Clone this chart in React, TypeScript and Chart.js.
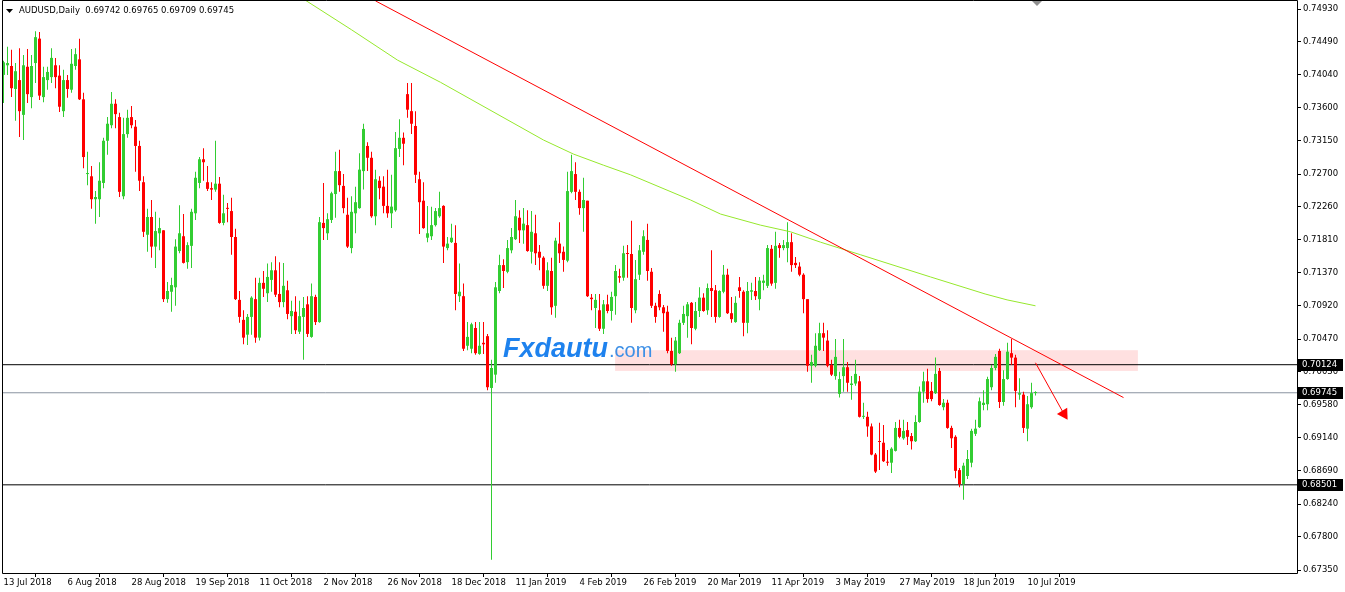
import React, { useEffect, useRef } from 'react';
import { Chart, registerables } from 'chart.js';

Chart.register(...registerables);

const symbol = 'AUDUSD';
const timeframe = 'Daily';

const opens = [
  0.7404, 0.7417, 0.7416, 0.7385, 0.7397, 0.7350, 0.7415, 0.7374, 0.7420, 0.7453,
  0.7374, 0.7397, 0.7401, 0.7417, 0.7403, 0.7355, 0.7397, 0.7384, 0.7416, 0.7425,
  0.7371, 0.7270, 0.7267, 0.7236, 0.7236, 0.7258, 0.7315, 0.7336, 0.7365, 0.7347,
  0.7240, 0.7324, 0.7347, 0.7334, 0.7308, 0.7259, 0.7188, 0.7212, 0.7172, 0.7190,
  0.7194, 0.7101, 0.7111, 0.7117, 0.7166, 0.7186, 0.7151, 0.7173, 0.7217, 0.7258,
  0.7290, 0.7259, 0.7251, 0.7249, 0.7257, 0.7204, 0.7224, 0.7220, 0.7185, 0.7100,
  0.7073, 0.7053, 0.7077, 0.7101, 0.7049, 0.7123, 0.7109, 0.7127, 0.7140, 0.7108,
  0.7097, 0.7113, 0.7078, 0.7084, 0.7057, 0.7077, 0.7094, 0.7050, 0.7104, 0.7070,
  0.7204, 0.7190, 0.7208, 0.7243, 0.7274, 0.7254, 0.7215, 0.7170, 0.7217, 0.7224,
  0.7274, 0.7308, 0.7292, 0.7213, 0.7261, 0.7253, 0.7227, 0.7217, 0.7221, 0.7304,
  0.7319, 0.7378, 0.7355, 0.7335, 0.7263, 0.7234, 0.7184, 0.7186, 0.7201, 0.7213,
  0.7227, 0.7170, 0.7178, 0.7177, 0.7105, 0.7105, 0.7038, 0.7034, 0.7062, 0.7027,
  0.7042, 0.7051, 0.6981, 0.6999, 0.7112, 0.7147, 0.7138, 0.7167, 0.7182, 0.7211,
  0.7194, 0.7201, 0.7165, 0.7190, 0.7165, 0.7157, 0.7119, 0.7139, 0.7092, 0.7176,
  0.7165, 0.7153, 0.7246, 0.7270, 0.7246, 0.7224, 0.7234, 0.7103, 0.7089, 0.7086,
  0.7061, 0.7094, 0.7085, 0.7105, 0.7132, 0.7130, 0.7163, 0.7162, 0.7086, 0.7134,
  0.7165, 0.7181, 0.7138, 0.7092, 0.7108, 0.7090, 0.7084, 0.7031, 0.7013, 0.7028,
  0.7069, 0.7078, 0.7096, 0.7061, 0.7085, 0.7103, 0.7086, 0.7116, 0.7113, 0.7077,
  0.7111, 0.7134, 0.7082, 0.7070, 0.7117, 0.7111, 0.7069, 0.7111, 0.7112, 0.7101,
  0.7123, 0.7119, 0.7169, 0.7123, 0.7174, 0.7170, 0.7170, 0.7178, 0.7150, 0.7145,
  0.7134, 0.7101, 0.7011, 0.7011, 0.7032, 0.7055, 0.7045, 0.7012, 0.6997, 0.6973,
  0.6997, 0.7009, 0.6985, 0.6987, 0.6990, 0.6942, 0.6942, 0.6929, 0.6891, 0.6909,
  0.6907, 0.6881, 0.6880, 0.6896, 0.6927, 0.6913, 0.6924, 0.6916, 0.6909, 0.6935,
  0.6976, 0.6990, 0.6977, 0.6974, 0.7004, 0.6955, 0.6961, 0.6927, 0.6915, 0.6870,
  0.6851, 0.6862, 0.6880, 0.6919, 0.6928, 0.6958, 0.6959, 0.6982, 0.7008, 0.7031,
  0.6962, 0.6993, 0.7028, 0.7022, 0.6972, 0.6972, 0.6926, 0.6955, 0.69742,
];

const highs = [
  0.7423, 0.7442, 0.7438, 0.7420, 0.7440, 0.7431, 0.7439, 0.7431, 0.7463, 0.7462,
  0.7415, 0.7415, 0.7440, 0.7427, 0.7417, 0.7411, 0.7404, 0.7439, 0.7440, 0.7453,
  0.7380, 0.7300, 0.7281, 0.7247, 0.7286, 0.7319, 0.7347, 0.7381, 0.7371, 0.7353,
  0.7346, 0.7357, 0.7362, 0.7343, 0.7315, 0.7267, 0.7223, 0.7235, 0.7219, 0.7211,
  0.7194, 0.7124, 0.7130, 0.7182, 0.7228, 0.7216, 0.7178, 0.7223, 0.7273, 0.7293,
  0.7305, 0.7281, 0.7259, 0.7315, 0.7266, 0.7242, 0.7231, 0.7238, 0.7196, 0.7112,
  0.7086, 0.7081, 0.7105, 0.7130, 0.7130, 0.7139, 0.7149, 0.7151, 0.7159, 0.7151,
  0.7150, 0.7126, 0.7099, 0.7105, 0.7099, 0.7104, 0.7105, 0.7122, 0.7107, 0.7212,
  0.7258, 0.7217, 0.7246, 0.7300, 0.7303, 0.7270, 0.7238, 0.7240, 0.7253, 0.7298,
  0.7338, 0.7313, 0.7300, 0.7276, 0.7267, 0.7267, 0.7276, 0.7269, 0.7327, 0.7344,
  0.7326, 0.7393, 0.7393, 0.7355, 0.7273, 0.7259, 0.7227, 0.7226, 0.7224, 0.7246,
  0.7228, 0.7185, 0.7203, 0.7201, 0.7149, 0.7122, 0.7070, 0.7069, 0.7070, 0.7070,
  0.7070, 0.7054, 0.7019, 0.7124, 0.7161, 0.7155, 0.7181, 0.7197, 0.7235, 0.7221,
  0.7224, 0.7221, 0.7220, 0.7215, 0.7174, 0.7159, 0.7151, 0.7157, 0.7184, 0.7205,
  0.7172, 0.7273, 0.7296, 0.7286, 0.7249, 0.7265, 0.7234, 0.7108, 0.7108, 0.7108,
  0.7100, 0.7107, 0.7111, 0.7147, 0.7142, 0.7173, 0.7174, 0.7207, 0.7154, 0.7174,
  0.7194, 0.7203, 0.7143, 0.7096, 0.7113, 0.7093, 0.7092, 0.7049, 0.7050, 0.7073,
  0.7092, 0.7097, 0.7097, 0.7097, 0.7117, 0.7109, 0.7122, 0.7167, 0.7120, 0.7113,
  0.7147, 0.7142, 0.7104, 0.7105, 0.7131, 0.7113, 0.7124, 0.7123, 0.7131, 0.7131,
  0.7134, 0.7174, 0.7174, 0.7192, 0.7177, 0.7181, 0.7205, 0.7190, 0.7158, 0.7151,
  0.7136, 0.7101, 0.7026, 0.7055, 0.7069, 0.7069, 0.7059, 0.7019, 0.7047, 0.7003,
  0.7047, 0.7016, 0.6997, 0.7019, 0.6997, 0.6961, 0.6949, 0.6933, 0.6893, 0.6934,
  0.6931, 0.6897, 0.6901, 0.6935, 0.6938, 0.6938, 0.6935, 0.6920, 0.6944, 0.6983,
  0.7003, 0.7007, 0.6989, 0.7022, 0.7008, 0.6966, 0.6965, 0.6930, 0.6917, 0.6873,
  0.6880, 0.6897, 0.6926, 0.6938, 0.6968, 0.6978, 0.6996, 0.7012, 0.7027, 0.7034,
  0.7005, 0.7042, 0.7047, 0.7026, 0.6994, 0.6976, 0.6970, 0.6988, 0.69765,
];

const lows = [
  0.7366, 0.7404, 0.7374, 0.7342, 0.7320, 0.7316, 0.7366, 0.7359, 0.7393, 0.7370,
  0.7367, 0.7384, 0.7393, 0.7386, 0.7354, 0.7347, 0.7373, 0.7380, 0.7411, 0.7370,
  0.7278, 0.7255, 0.7223, 0.7203, 0.7212, 0.7251, 0.7296, 0.7332, 0.7332, 0.7239,
  0.7236, 0.7319, 0.7332, 0.7273, 0.7247, 0.7185, 0.7165, 0.7157, 0.7143, 0.7167,
  0.7097, 0.7096, 0.7084, 0.7092, 0.7163, 0.7149, 0.7142, 0.7143, 0.7208, 0.7251,
  0.7261, 0.7247, 0.7235, 0.7246, 0.7203, 0.7201, 0.7205, 0.7161, 0.7100, 0.7069,
  0.7040, 0.7039, 0.7053, 0.7042, 0.7045, 0.7104, 0.7097, 0.7111, 0.7104, 0.7090,
  0.7090, 0.7074, 0.7054, 0.7054, 0.7054, 0.7019, 0.7050, 0.7049, 0.7066, 0.7069,
  0.7181, 0.7181, 0.7204, 0.7211, 0.7246, 0.7217, 0.7170, 0.7163, 0.7190, 0.7223,
  0.7249, 0.7274, 0.7211, 0.7201, 0.7236, 0.7217, 0.7211, 0.7197, 0.7219, 0.7293,
  0.7282, 0.7346, 0.7324, 0.7258, 0.7189, 0.7196, 0.7178, 0.7181, 0.7199, 0.7211,
  0.7150, 0.7167, 0.7177, 0.7086, 0.7097, 0.7031, 0.7032, 0.7028, 0.7026, 0.7026,
  0.7027, 0.6978, 0.6749, 0.6988, 0.7109, 0.7116, 0.7136, 0.7163, 0.7181, 0.7177,
  0.7176, 0.7165, 0.7149, 0.7147, 0.7140, 0.7115, 0.7112, 0.7080, 0.7076, 0.7150,
  0.7138, 0.7151, 0.7244, 0.7235, 0.7215, 0.7192, 0.7104, 0.7086, 0.7062, 0.7058,
  0.7054, 0.7082, 0.7072, 0.7080, 0.7123, 0.7126, 0.7130, 0.7069, 0.7082, 0.7127,
  0.7161, 0.7126, 0.7089, 0.7069, 0.7086, 0.7057, 0.7028, 0.7011, 0.7003, 0.7027,
  0.7066, 0.7049, 0.7040, 0.7059, 0.7077, 0.7084, 0.7080, 0.7077, 0.7069, 0.7076,
  0.7109, 0.7081, 0.7069, 0.7069, 0.7103, 0.7051, 0.7055, 0.7100, 0.7100, 0.7086,
  0.7113, 0.7116, 0.7119, 0.7115, 0.7157, 0.7167, 0.7151, 0.7138, 0.7143, 0.7132,
  0.7082, 0.7003, 0.6988, 0.7009, 0.7031, 0.7031, 0.7009, 0.6997, 0.6992, 0.6968,
  0.6976, 0.6976, 0.6965, 0.6984, 0.6941, 0.6939, 0.6915, 0.6890, 0.6866, 0.6870,
  0.6881, 0.6876, 0.6866, 0.6895, 0.6913, 0.6911, 0.6904, 0.6898, 0.6908, 0.6934,
  0.6961, 0.6961, 0.6963, 0.6973, 0.6957, 0.6951, 0.6926, 0.6900, 0.6859, 0.6847,
  0.6830, 0.6858, 0.6874, 0.6916, 0.6927, 0.6951, 0.6951, 0.6978, 0.7005, 0.6954,
  0.6957, 0.6992, 0.7012, 0.6955, 0.6965, 0.6920, 0.6909, 0.6953, 0.69709,
];

const closes = [
  0.7421, 0.7420, 0.7386, 0.7409, 0.7355, 0.7417, 0.7378, 0.7416, 0.7455, 0.7376,
  0.7401, 0.7408, 0.7427, 0.7401, 0.7361, 0.7397, 0.7385, 0.7419, 0.7432, 0.7371,
  0.7293, 0.7271, 0.7236, 0.7239, 0.7261, 0.7315, 0.7338, 0.7365, 0.7351, 0.7246,
  0.7324, 0.7346, 0.7336, 0.7308, 0.7261, 0.7192, 0.7212, 0.7172, 0.7193, 0.7197,
  0.7101, 0.7112, 0.7120, 0.7172, 0.7190, 0.7150, 0.7174, 0.7219, 0.7265, 0.7290,
  0.7286, 0.7250, 0.7249, 0.7257, 0.7204, 0.7217, 0.7223, 0.7185, 0.7101, 0.7077,
  0.7049, 0.7077, 0.7103, 0.7049, 0.7123, 0.7115, 0.7131, 0.7140, 0.7107, 0.7097,
  0.7119, 0.7081, 0.7085, 0.7059, 0.7078, 0.7089, 0.7054, 0.7105, 0.7070, 0.7205,
  0.7197, 0.7209, 0.7244, 0.7274, 0.7255, 0.7224, 0.7172, 0.7219, 0.7232, 0.7276,
  0.7331, 0.7292, 0.7213, 0.7263, 0.7251, 0.7227, 0.7217, 0.7226, 0.7305, 0.7319,
  0.7311, 0.7357, 0.7338, 0.7269, 0.7232, 0.7197, 0.7190, 0.7201, 0.7220, 0.7224,
  0.7172, 0.7176, 0.7184, 0.7108, 0.7111, 0.7034, 0.7050, 0.7067, 0.7028, 0.7038,
  0.7040, 0.6982, 0.7008, 0.7117, 0.7147, 0.7139, 0.7170, 0.7185, 0.7213, 0.7194,
  0.7203, 0.7166, 0.7192, 0.7163, 0.7157, 0.7119, 0.7140, 0.7090, 0.7180, 0.7163,
  0.7154, 0.7247, 0.7274, 0.7246, 0.7224, 0.7235, 0.7105, 0.7101, 0.7100, 0.7061,
  0.7094, 0.7085, 0.7104, 0.7139, 0.7130, 0.7163, 0.7162, 0.7089, 0.7128, 0.7167,
  0.7186, 0.7139, 0.7092, 0.7077, 0.7090, 0.7082, 0.7031, 0.7013, 0.7045, 0.7069,
  0.7081, 0.7094, 0.7062, 0.7085, 0.7103, 0.7085, 0.7116, 0.7112, 0.7077, 0.7112,
  0.7134, 0.7082, 0.7074, 0.7096, 0.7112, 0.7069, 0.7112, 0.7113, 0.7105, 0.7126,
  0.7126, 0.7170, 0.7122, 0.7173, 0.7170, 0.7174, 0.7178, 0.7147, 0.7147, 0.7134,
  0.7101, 0.7011, 0.7016, 0.7038, 0.7055, 0.7049, 0.7011, 0.6999, 0.7023, 0.6993,
  0.7009, 0.6988, 0.6987, 0.7000, 0.6942, 0.6943, 0.6929, 0.6891, 0.6868, 0.6908,
  0.6882, 0.6880, 0.6899, 0.6927, 0.6915, 0.6923, 0.6915, 0.6909, 0.6935, 0.6976,
  0.6990, 0.6966, 0.6966, 0.7000, 0.6958, 0.6961, 0.6927, 0.6913, 0.6869, 0.6851,
  0.6876, 0.6885, 0.6923, 0.6926, 0.6963, 0.6961, 0.6993, 0.7008, 0.7023, 0.6962,
  0.6993, 0.7030, 0.7022, 0.6977, 0.6974, 0.6927, 0.6959, 0.6974, 0.69745,
];

const xTickBars = [0, 16, 32, 48, 64, 80, 96, 112, 128, 144, 160, 176, 192, 208, 224, 240, 256];
const xTickLabels = [
  '13 Jul 2018', '6 Aug 2018', '28 Aug 2018', '19 Sep 2018', '11 Oct 2018', '2 Nov 2018',
  '26 Nov 2018', '18 Dec 2018', '11 Jan 2019', '4 Feb 2019', '26 Feb 2019', '20 Mar 2019',
  '11 Apr 2019', '3 May 2019', '27 May 2019', '18 Jun 2019', '10 Jul 2019',
];
const yTickValues = [
  0.7493, 0.7449, 0.7404, 0.736, 0.7315, 0.727, 0.7226, 0.7181, 0.7137,
  0.7092, 0.7047, 0.7003, 0.6958, 0.6914, 0.6869, 0.6824, 0.678, 0.6735,
];

const levelValues = [0.70124, 0.68501];
const bidValue = 0.69745;

const maBars = [74, 87, 98.5, 109.25, 135, 142.5, 150, 156.75, 171.75, 179.25, 189.25, 196.75, 204.25, 214.25, 231.75, 245.4, 250.9, 258];
const maValues = [0.751, 0.7465, 0.7424, 0.7394, 0.7316, 0.7297, 0.7282, 0.7269, 0.7235, 0.7216, 0.7201, 0.7192, 0.7178, 0.7161, 0.7131, 0.7108, 0.71, 0.7092];

const trendBars = [93, 280];
const trendValues = [0.7504, 0.6968];

const arrowBars = [258, 265.1];
const arrowValues = [0.7015, 0.6946];

const zoneBars = [152.9, 283.6];
const zoneValues = [0.7032, 0.7004];

const X_MIN = -0.375;
const X_MAX = 323.375;
const Y_MIN = 0.673097;
const Y_MAX = 0.750385;

const GREEN = '#32cd32';
const RED = '#ff0000';
const FONT = '"DejaVu Sans"';

export default function App() {
  const ref = useRef<HTMLCanvasElement | null>(null);

  useEffect(() => {
    const canvas = ref.current;
    if (!canvas) return;
    const idx = opens.map((_, i) => i);
    const colors = idx.map((i) => (closes[i] >= opens[i] ? GREEN : RED));
    const last = opens.length - 1;

    const overlay = {
      id: 'overlay',
      beforeDatasetsDraw(chart: any) {
        const { ctx, scales } = chart;
        const x = scales.x;
        const y = scales.y;
        ctx.save();
        ctx.fillStyle = '#ffe0e0';
        const x0 = x.getPixelForValue(zoneBars[0]);
        const x1 = x.getPixelForValue(zoneBars[1]);
        const y0 = y.getPixelForValue(zoneValues[0]);
        const y1 = y.getPixelForValue(zoneValues[1]);
        ctx.fillRect(x0, y0, x1 - x0, y1 - y0);
        ctx.restore();
      },
      afterDatasetsDraw(chart: any) {
        const { ctx } = chart;
        ctx.save();
        ctx.textBaseline = 'alphabetic';
        ctx.textAlign = 'left';
        ctx.font = 'italic bold 27px "Liberation Sans"';
        ctx.fillStyle = '#1e82ee';
        ctx.fillText('Fxdautu', 503, 357);
        const w = ctx.measureText('Fxdautu').width;
        ctx.font = '20px "Liberation Sans"';
        ctx.fillStyle = '#3d8fe6';
        ctx.fillText('.com', 503 + w + 1, 357);
        ctx.restore();
      },
      afterDraw(chart: any) {
        const { ctx, chartArea: ca, scales } = chart;
        const y = scales.y;
        ctx.save();
        // frame
        ctx.strokeStyle = '#000';
        ctx.lineWidth = 1;
        ctx.beginPath();
        ctx.moveTo(ca.left + 0.5, ca.top - 0.5);
        ctx.lineTo(ca.right + 0.5, ca.top - 0.5);
        ctx.moveTo(ca.left + 0.5, ca.top - 0.5);
        ctx.lineTo(ca.left + 0.5, ca.bottom + 0.5);
        ctx.moveTo(ca.right + 0.5, ca.top - 0.5);
        ctx.lineTo(ca.right + 0.5, ca.bottom + 0.5);
        ctx.moveTo(ca.left + 0.5, ca.bottom + 0.5);
        ctx.lineTo(ca.right + 0.5, ca.bottom + 0.5);
        ctx.stroke();

        // highlighted price labels
        ctx.font = '8.5px ' + FONT;
        ctx.textBaseline = 'middle';
        ctx.textAlign = 'left';
        [...levelValues, bidValue].forEach((v) => {
          const py = Math.round(y.getPixelForValue(v));
          ctx.fillStyle = '#000';
          ctx.fillRect(ca.right + 1, py - 6, 45, 12);
          ctx.fillStyle = '#fff';
          ctx.fillText(v.toFixed(5), ca.right + 5, py);
        });

        // header
        ctx.fillStyle = '#000';
        ctx.beginPath();
        ctx.moveTo(6, 9);
        ctx.lineTo(13, 9);
        ctx.lineTo(9.5, 13);
        ctx.closePath();
        ctx.fill();
        ctx.font = '8.5px ' + FONT;
        ctx.textBaseline = 'middle';
        const header = `${symbol},${timeframe}  ${opens[last].toFixed(5)} ${highs[last].toFixed(5)} ${lows[last].toFixed(5)} ${closes[last].toFixed(5)}`;
        ctx.fillText(header, 19, 11);

        // chart shift marker
        ctx.fillStyle = '#909090';
        ctx.beginPath();
        ctx.moveTo(1032, 1);
        ctx.lineTo(1042, 1);
        ctx.lineTo(1037, 6);
        ctx.closePath();
        ctx.fill();
        ctx.restore();
      },
    };

    const hline = (v: number, color: string, order: number) => ({
      type: 'line',
      data: [{ x: X_MIN, y: v }, { x: X_MAX, y: v }],
      borderColor: color,
      borderWidth: 1,
      pointRadius: 0,
      order,
    });

    const chart = new Chart(canvas, {
      type: 'bar',
      data: {
        datasets: [
          hline(levelValues[0], '#000000', 9),
          hline(levelValues[1], '#000000', 9),
          hline(bidValue, '#8a93a0', 8),
          {
            type: 'bar',
            data: idx.map((i) => ({ x: i, y: [lows[i], highs[i]] })),
            backgroundColor: colors,
            grouped: false,
            barPercentage: 1,
            categoryPercentage: 1,
            maxBarThickness: 1,
            borderWidth: 0,
            inflateAmount: 0,
            order: 6,
          },
          {
            type: 'bar',
            data: idx.map((i) => ({ x: i, y: [opens[i], closes[i]] })),
            backgroundColor: colors,
            grouped: false,
            barPercentage: 1,
            categoryPercentage: 1,
            maxBarThickness: 3,
            minBarLength: 1,
            borderWidth: 0,
            inflateAmount: 0,
            order: 5,
          },
          {
            type: 'line',
            data: maBars.map((b, i) => ({ x: b, y: maValues[i] })),
            borderColor: '#96e82c',
            borderWidth: 1,
            pointRadius: 0,
            tension: 0,
            order: 3,
          },
          {
            type: 'line',
            data: trendBars.map((b, i) => ({ x: b, y: trendValues[i] })),
            borderColor: RED,
            borderWidth: 1,
            pointRadius: 0,
            order: 2,
          },
          {
            type: 'line',
            data: arrowBars.map((b, i) => ({ x: b, y: arrowValues[i] })),
            borderColor: RED,
            borderWidth: 1,
            pointRadius: [0, 7],
            pointStyle: 'triangle',
            rotation: [0, 148],
            pointBackgroundColor: RED,
            pointBorderColor: RED,
            pointBorderWidth: 0,
            order: 1,
          },
        ] as any,
      },
      options: {
        animation: false,
        responsive: false,
        devicePixelRatio: 1,
        events: [],
        layout: { autoPadding: false, padding: { left: 2, top: 1, right: 0, bottom: 0 } },
        plugins: { legend: { display: false }, tooltip: { enabled: false } },
        scales: {
          x: {
            type: 'linear',
            position: 'bottom',
            min: X_MIN,
            max: X_MAX,
            offset: false,
            afterBuildTicks: (s: any) => {
              s.ticks = xTickBars.map((v) => ({ value: v }));
            },
            afterFit: (s: any) => {
              s.height = 19;
              s.paddingLeft = 0;
              s.paddingRight = 0;
            },
            ticks: {
              autoSkip: false,
              maxRotation: 0,
              minRotation: 0,
              align: 'start',
              padding: 1,
              color: '#000',
              font: { family: FONT, size: 8.5 },
              callback: (v: any) => {
                const k = xTickBars.indexOf(Number(v));
                return k >= 0 ? xTickLabels[k] : '';
              },
            },
            grid: { drawOnChartArea: false, drawTicks: true, tickLength: 4, tickColor: '#000' },
            border: { display: false },
          },
          y: {
            type: 'linear',
            position: 'right',
            min: Y_MIN,
            max: Y_MAX,
            afterBuildTicks: (s: any) => {
              s.ticks = yTickValues.map((v) => ({ value: v }));
            },
            afterFit: (s: any) => {
              s.width = 48;
              s.paddingTop = 0;
              s.paddingBottom = 0;
            },
            ticks: {
              autoSkip: false,
              padding: 2,
              color: '#000',
              font: { family: FONT, size: 8.5 },
              callback: (v: any) => Number(v).toFixed(5),
            },
            grid: { drawOnChartArea: false, drawTicks: true, tickLength: 4, tickColor: '#000' },
            border: { display: false },
          },
        },
      } as any,
      plugins: [overlay],
    });

    return () => chart.destroy();
  }, []);

  return (
    <div style={{ position: 'fixed', left: 0, top: 0, width: 1345, height: 592, background: '#fff' }}>
      <canvas ref={ref} width={1345} height={592} style={{ display: 'block', width: 1345, height: 592 }} />
    </div>
  );
}
